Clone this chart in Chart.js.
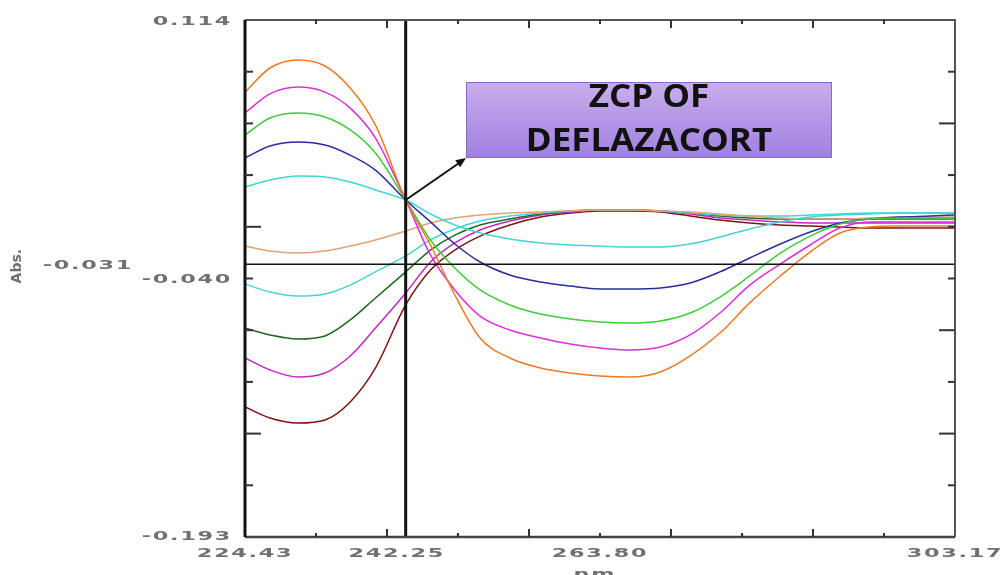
<!DOCTYPE html>
<html>
<head>
<meta charset="utf-8">
<script src="https://cdn.jsdelivr.net/npm/chart.js@4.4.1/dist/chart.umd.min.js"></script>
<style>
  html, body { margin: 0; padding: 0; background: #fff; }
  #chart { display: block; }
</style>
</head>
<body>
<canvas id="chart" width="1000" height="575"></canvas>
<script>
// wavelength axis (nm)
const wavelengths = [224.43, 227.2, 230.3, 233.3, 236.1, 238.9, 242.25, 245.0, 247.7, 250.5, 253.8, 257.2, 260.5,
  263.8, 267.1, 270.5, 273.8, 277.1, 280.4, 283.8, 287.1, 290.4, 293.7, 297.1, 300.4, 303.17];

// first-derivative spectra (Abs.)
const orangeAbs = [0.0712, 0.0855, 0.0903, 0.0867, 0.0736, 0.0516, 0.0071, -0.0196, -0.0493, -0.0748, -0.0867, -0.0926, -0.0956,
  -0.0974, -0.0980, -0.0950, -0.0855, -0.0719, -0.0540, -0.0380, -0.0238, -0.0125, -0.0089, -0.0083, -0.0083, -0.0083];
const magentaAbs = [0.0588, 0.0701, 0.0742, 0.0712, 0.0617, 0.0439, 0.0071, -0.0255, -0.0463, -0.0618, -0.0701, -0.0748, -0.0784,
  -0.0808, -0.0820, -0.0802, -0.0730, -0.0600, -0.0434, -0.0309, -0.0196, -0.0095, -0.0059, -0.0059, -0.0059, -0.0059];
const greenAbs = [0.0457, 0.0558, 0.0588, 0.0564, 0.0487, 0.0350, 0.0071, -0.0166, -0.0333, -0.0463, -0.0552, -0.0606, -0.0635,
  -0.0653, -0.0659, -0.0647, -0.0600, -0.0505, -0.0380, -0.0244, -0.0143, -0.0071, -0.0042, -0.0036, -0.0036, -0.0036];
const blueAbs = [0.0321, 0.0392, 0.0416, 0.0398, 0.0338, 0.0249, 0.0071, -0.0059, -0.0190, -0.0297, -0.0374, -0.0416, -0.0440,
  -0.0457, -0.0457, -0.0451, -0.0422, -0.0356, -0.0273, -0.0190, -0.0119, -0.0065, -0.0042, -0.0030, -0.0024, -0.0018];
const cyanAbs = [0.0148, 0.0190, 0.0214, 0.0208, 0.0178, 0.0131, 0.0071, -0.0012, -0.0077, -0.0125, -0.0160, -0.0184, -0.0196,
  -0.0202, -0.0208, -0.0208, -0.0190, -0.0149, -0.0101, -0.0059, -0.0030, -0.0018, -0.0012, -0.0006, -0.0006, -0.0006];
const tanAbs = [-0.0202, -0.0232, -0.0244, -0.0232, -0.0202, -0.0166, -0.0113, -0.0065, -0.0036, -0.0018, -0.0006, 0.0000, 0.0006,
  0.0012, 0.0012, 0.0006, 0.0000, -0.0012, -0.0024, -0.0036, -0.0042, -0.0042, -0.0036, -0.0030, -0.0030, -0.0030];
const cyan2Abs = [-0.0428, -0.0475, -0.0499, -0.0487, -0.0434, -0.0356, -0.0261, -0.0166, -0.0101, -0.0054, -0.0024, -0.0006, 0.0006,
  0.0012, 0.0012, 0.0006, -0.0006, -0.0018, -0.0024, -0.0024, -0.0018, -0.0012, -0.0006, -0.0006, -0.0006, -0.0006];
const darkGreenAbs = [-0.0689, -0.0730, -0.0754, -0.0736, -0.0641, -0.0511, -0.0356, -0.0226, -0.0137, -0.0077, -0.0042, -0.0012, 0.0006,
  0.0012, 0.0012, 0.0006, -0.0006, -0.0024, -0.0036, -0.0042, -0.0042, -0.0042, -0.0042, -0.0042, -0.0042, -0.0042];
const magenta2Abs = [-0.0867, -0.0938, -0.0980, -0.0956, -0.0855, -0.0689, -0.0481, -0.0297, -0.0184, -0.0107, -0.0054, -0.0018, 0.0000,
  0.0012, 0.0012, 0.0006, -0.0012, -0.0036, -0.0048, -0.0059, -0.0065, -0.0065, -0.0065, -0.0065, -0.0065, -0.0065];
const maroonAbs = [-0.1158, -0.1223, -0.1253, -0.1235, -0.1128, -0.0926, -0.0552, -0.0345, -0.0226, -0.0143, -0.0077, -0.0030, -0.0006,
  0.0006, 0.0006, 0.0000, -0.0024, -0.0048, -0.0065, -0.0077, -0.0083, -0.0089, -0.0095, -0.0095, -0.0095, -0.0095];

// axis ends, labels, cursor
const xMin = 224.43, xMax = 303.17;
const yMin = -0.193, yMax = 0.114;
const xTickLabels = ['224.43', '242.25', '263.80', '303.17'];
const xTickValues = [224.43, 242.25, 263.80, 303.17];
const yTickLabels = ['0.114', '-0.040', '-0.193'];
const yTickValues = [0.114, -0.040, -0.193];
const cursorNm = 242.25, cursorAbs = -0.031, zcpAbs = 0.0071;
const boxLines = ['ZCP OF', 'DEFLAZACORT'];

const series = [
  [orangeAbs, '#ec7a2a'],
  [magentaAbs, '#dc2edc'],
  [greenAbs, '#3ccc3c'],
  [blueAbs, '#2c2c9c'],
  [cyanAbs, '#44d4d4'],
  [tanAbs, '#e0a276'],
  [cyan2Abs, '#44d4d4'],
  [darkGreenAbs, '#226a22'],
  [magenta2Abs, '#c428c4'],
  [maroonAbs, '#7c1414']
];

// wide, grey, heavy labels like the instrument software
function stretchText(ctx, text, x, y, align) {
  const sx = 1.72;
  ctx.save();
  ctx.font = 'bold 13px "DejaVu Sans"';
  ctx.letterSpacing = '1px';
  const w = ctx.measureText(text).width * sx;
  let left = x;
  if (align === 'center') left = x - w / 2;
  if (align === 'right') left = x - w;
  ctx.translate(left, y);
  ctx.scale(sx, 1);
  ctx.textAlign = 'left';
  ctx.textBaseline = 'middle';
  ctx.fillText(text, 0, 0);
  ctx.restore();
}

const decor = {
  id: 'decor',
  afterDatasetsDraw(chart) {
    const { ctx, chartArea: a, scales: { x, y } } = chart;
    ctx.save();

    // cursor lines
    const cy = y.getPixelForValue(cursorAbs);
    const cx = x.getPixelForValue(cursorNm);
    ctx.strokeStyle = '#111';
    ctx.lineWidth = 1.5;
    ctx.beginPath(); ctx.moveTo(a.left, cy); ctx.lineTo(a.right, cy); ctx.stroke();
    ctx.lineWidth = 3;
    ctx.beginPath(); ctx.moveTo(cx, a.top); ctx.lineTo(cx, a.bottom); ctx.stroke();

    // frame
    ctx.strokeStyle = '#555';
    ctx.lineWidth = 2;
    ctx.beginPath(); ctx.moveTo(a.left, a.top); ctx.lineTo(a.right, a.top); ctx.lineTo(a.right, a.bottom); ctx.stroke();
    ctx.strokeStyle = '#444';
    ctx.lineWidth = 2.5;
    ctx.beginPath(); ctx.moveTo(a.left, a.bottom); ctx.lineTo(a.right, a.bottom); ctx.stroke();
    ctx.strokeStyle = '#111';
    ctx.lineWidth = 3;
    ctx.beginPath(); ctx.moveTo(a.left, a.top); ctx.lineTo(a.left, a.bottom); ctx.stroke();

    // inward ticks, 10 divisions each way
    ctx.strokeStyle = '#333';
    ctx.lineWidth = 2;
    for (let i = 1; i < 10; i++) {
      const py = y.getPixelForValue(yMax - (yMax - yMin) * i / 10);
      const lenL = (i === 4 || i === 8) ? 16 : 8;
      const lenR = (i === 2 || i === 6 || i === 8) ? 16 : 7;
      ctx.beginPath(); ctx.moveTo(a.left, py); ctx.lineTo(a.left + lenL, py); ctx.stroke();
      ctx.beginPath(); ctx.moveTo(a.right, py); ctx.lineTo(a.right - lenR, py); ctx.stroke();
      const px = x.getPixelForValue(xMin + (xMax - xMin) * i / 10);
      const lenX = (i % 2 === 0) ? 8 : 4;
      ctx.beginPath(); ctx.moveTo(px, a.top); ctx.lineTo(px, a.top + lenX); ctx.stroke();
      ctx.beginPath(); ctx.moveTo(px, a.bottom); ctx.lineTo(px, a.bottom - lenX); ctx.stroke();
    }

    // tick labels
    ctx.fillStyle = '#707070';
    yTickValues.forEach((v, i) => {
      let py = y.getPixelForValue(v);
      if (i === 0) py += 2;
      stretchText(ctx, yTickLabels[i], a.left - 13, py, 'right');
    });
    xTickValues.forEach((v, i) => {
      let px = x.getPixelForValue(v);
      if (i === 1) px -= 9;
      stretchText(ctx, xTickLabels[i], px, a.bottom + 17, 'center');
    });
    stretchText(ctx, cursorAbs.toFixed(3), 133, cy + 1, 'right');
    stretchText(ctx, 'nm.', x.getPixelForValue((xMin + xMax) / 2), a.bottom + 38, 'center');

    // y title
    ctx.save();
    ctx.translate(17, cy + 2);
    ctx.rotate(-Math.PI / 2);
    ctx.font = 'bold 14px "DejaVu Sans"';
    ctx.textAlign = 'center';
    ctx.textBaseline = 'middle';
    ctx.fillStyle = '#707070';
    ctx.fillText('Abs.', 0, 0);
    ctx.restore();

    // annotation box
    const bx = 466, by = 82, bw = 366, bh = 76;
    const g = ctx.createLinearGradient(0, by, 0, by + bh);
    g.addColorStop(0, '#c8aeec');
    g.addColorStop(1, '#a080e0');
    ctx.fillStyle = g;
    ctx.fillRect(bx, by, bw, bh);
    ctx.strokeStyle = '#8a68c8';
    ctx.lineWidth = 1;
    ctx.strokeRect(bx + 0.5, by + 0.5, bw - 1, bh - 1);
    ctx.fillStyle = '#111';
    ctx.font = 'bold 33px "Open Sans"';
    ctx.textBaseline = 'middle';
    boxLines.forEach((t, i) => {
      ctx.save();
      ctx.translate(bx + bw / 2, by + 16 + i * 44);
      ctx.scale(1.06, 1);
      ctx.textAlign = 'center';
      ctx.fillText(t, 0, 0);
      ctx.restore();
    });

    // arrow from zero-crossing point to the box
    const zx = x.getPixelForValue(cursorNm), zy = y.getPixelForValue(zcpAbs);
    const ex = bx, ey = by + bh;
    ctx.strokeStyle = '#111';
    ctx.fillStyle = '#111';
    ctx.lineWidth = 2;
    ctx.beginPath(); ctx.moveTo(zx, zy); ctx.lineTo(ex - 4, ey + 3); ctx.stroke();
    const ang = Math.atan2(ey - zy, ex - zx);
    ctx.beginPath();
    ctx.moveTo(ex, ey);
    ctx.lineTo(ex - 11 * Math.cos(ang - 0.4), ey - 11 * Math.sin(ang - 0.4));
    ctx.lineTo(ex - 11 * Math.cos(ang + 0.4), ey - 11 * Math.sin(ang + 0.4));
    ctx.closePath();
    ctx.fill();

    ctx.restore();
  }
};

new Chart(document.getElementById('chart').getContext('2d'), {
  type: 'line',
  data: {
    datasets: series.map(([vals, color]) => ({
      data: wavelengths.map((w, i) => ({ x: w, y: vals[i] })),
      borderColor: color,
      borderWidth: 1.5,
      pointRadius: 0,
      fill: false,
      cubicInterpolationMode: 'monotone'
    }))
  },
  options: {
    responsive: false,
    animation: false,
    devicePixelRatio: 1,
    layout: { padding: { left: 245, right: 45, top: 20, bottom: 38 } },
    scales: {
      x: { type: 'linear', min: xMin, max: xMax, display: false },
      y: { type: 'linear', min: yMin, max: yMax, display: false }
    },
    plugins: { legend: { display: false }, tooltip: { enabled: false } }
  },
  plugins: [decor]
});
</script>
</body>
</html>
